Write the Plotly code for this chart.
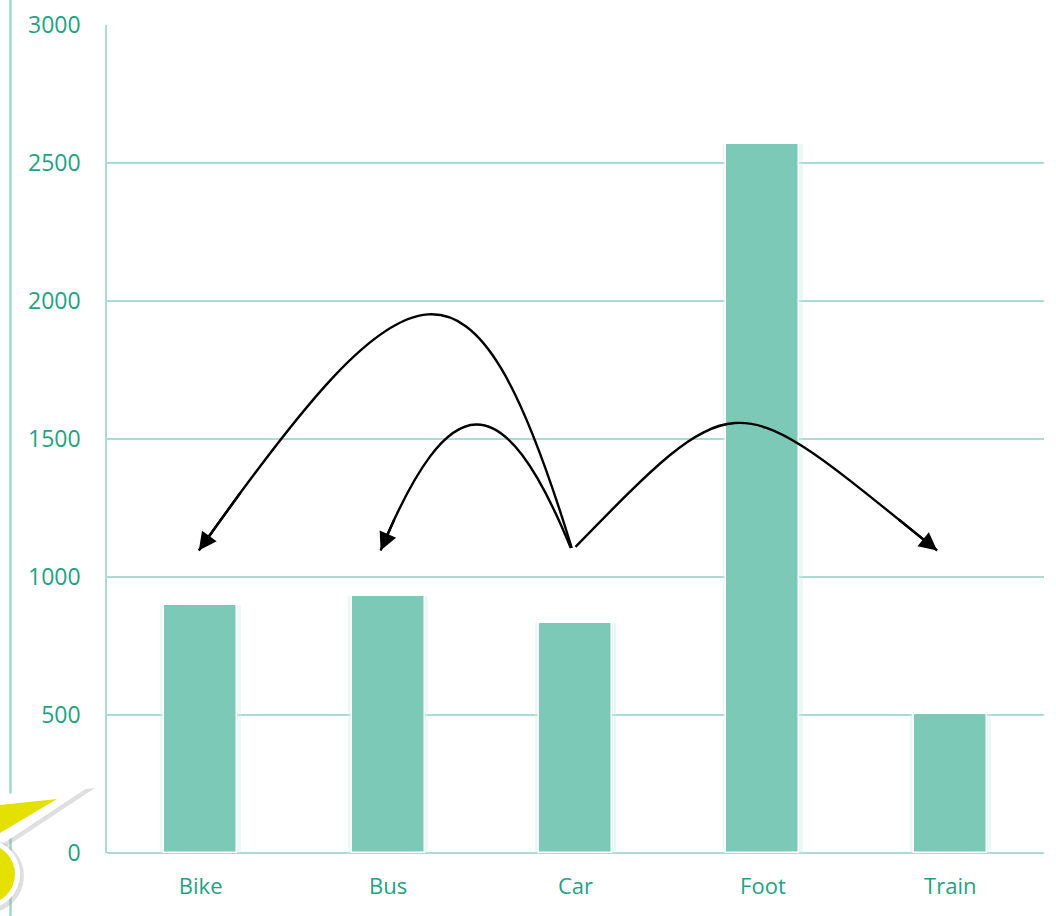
import plotly.graph_objects as go

# ---- data -------------------------------------------------------------
categories = ["Bike", "Bus", "Car", "Foot", "Train"]
counts = [900, 930, 835, 2570, 505]
y_ticks = [0, 500, 1000, 1500, 2000, 2500, 3000]

# ---- styling ----------------------------------------------------------
BAR_COLOR = "#7dc9b8"
GRID_COLOR = "#a9ddd1"
TEXT_COLOR = "#1fa283"
FONT = "Open Sans"
FONT_SIZE = 23
BAR_W = 0.39
HALO_W = 0.43

W, H = 1056, 916
M_L, M_R, M_T, M_B = 107, 12, 25, 63
PLOT_W = W - M_L - M_R
PLOT_H = H - M_T - M_B


def px_x(x):
    """pixel column -> paper x"""
    return (x - M_L) / PLOT_W


def px_y(y):
    """pixel row -> paper y"""
    return (H - M_B - y) / PLOT_H


xs = list(range(len(categories)))

fig = go.Figure()

# soft halo behind each bar
fig.add_trace(go.Bar(
    x=xs, y=counts, width=HALO_W, offset=-HALO_W / 2,
    marker=dict(color="rgba(205,238,230,0.4)", line=dict(width=0)),
    hoverinfo="skip", showlegend=False,
))
# main bars
fig.add_trace(go.Bar(
    x=xs, y=counts, width=BAR_W, offset=-BAR_W / 2,
    marker=dict(color=BAR_COLOR, line=dict(color="white", width=1.5)),
    showlegend=False,
))

# ---- curved arrows leaving "Car" (cubic Bezier, data units) ----------
arrows = [
    # start, control 1, control 2, tip
    ((1.98, 1105), (1.45, 2280), (1.13, 2190), (-0.01, 1096)),
    ((1.975, 1105), (1.61, 1708), (1.33, 1698), (0.96, 1096)),
    ((2.0, 1109), (2.89, 1730), (2.84, 1690), (3.93, 1096)),
]


def bezier(p, t):
    a, b, c, d = p
    u = 1 - t
    return (u**3 * a[0] + 3 * u * u * t * b[0] + 3 * u * t * t * c[0] + t**3 * d[0],
            u**3 * a[1] + 3 * u * u * t * b[1] + 3 * u * t * t * c[1] + t**3 * d[1])


shapes = []
annotations = []
for p in arrows:
    a, b, c, d = p
    tx, ty = bezier(p, 0.93)
    shapes.append(dict(
        type="path", xref="x", yref="y", layer="above",
        path=f"M {a[0]},{a[1]} C {b[0]},{b[1]} {c[0]},{c[1]} {d[0]},{d[1]}",
        line=dict(color="black", width=2.4),
    ))
    annotations.append(dict(
        x=d[0], y=d[1], ax=tx, ay=ty, xref="x", yref="y", axref="x", ayref="y",
        text="", showarrow=True, arrowhead=2, arrowsize=1.5, arrowwidth=2.4,
        arrowcolor="black", standoff=0,
    ))

# thin teal rule along the left edge of the page
shapes.append(dict(
    type="line", xref="paper", yref="paper", layer="above",
    x0=px_x(10.5), x1=px_x(10.5), y0=px_y(916), y1=px_y(0),
    line=dict(color="#9fd8ca", width=2.5),
))


# yellow badge in the lower-left corner (shadow, white rim, yellow fill)
def poly(pts, dx=0, dy=0):
    s = "M " + " L ".join(f"{px_x(x + dx)},{px_y(y + dy)}" for x, y in pts)
    return s + " Z"


spike_rim = [(-10, 796), (93, 784), (-10, 852)]
spike_fill = [(-10, 806), (57, 799), (-10, 839)]
shapes.append(dict(type="path", xref="paper", yref="paper", layer="above",
                   path=poly(spike_rim, 2, 4), fillcolor="rgba(150,150,150,0.3)",
                   line=dict(width=0)))
shapes.append(dict(type="path", xref="paper", yref="paper", layer="above",
                   path=poly(spike_rim), fillcolor="white", line=dict(width=0)))
shapes.append(dict(type="path", xref="paper", yref="paper", layer="above",
                   path=poly(spike_fill), fillcolor="#e4e000", line=dict(width=0)))

cx, cy = -15, 874
for r, col, off in [(37, "rgba(150,150,150,0.3)", 2), (35, "white", 0), (30, "#e4e000", 0)]:
    shapes.append(dict(
        type="circle", xref="paper", yref="paper", layer="above",
        x0=px_x(cx - r + off), x1=px_x(cx + r + off),
        y0=px_y(cy + r + off), y1=px_y(cy - r + off),
        fillcolor=col, line=dict(width=0),
    ))

fig.update_layout(
    width=W, height=H,
    margin=dict(l=M_L, r=M_R, t=M_T, b=M_B, autoexpand=False),
    paper_bgcolor="white", plot_bgcolor="white",
    barmode="overlay", bargap=0,
    font=dict(family=FONT, size=FONT_SIZE, color=TEXT_COLOR),
    shapes=shapes, annotations=annotations,
    xaxis=dict(
        range=[-0.5, len(categories) - 0.5],
        tickmode="array", tickvals=xs, ticktext=categories,
        showgrid=False, zeroline=False, showline=False, ticks="",
        ticklabelstandoff=18,
        tickfont=dict(family=FONT, size=FONT_SIZE - 1, color=TEXT_COLOR),
    ),
    yaxis=dict(
        range=[0, 3000], tickmode="array", tickvals=y_ticks,
        showgrid=True, gridcolor=GRID_COLOR, gridwidth=1.5,
        zeroline=True, zerolinecolor=GRID_COLOR, zerolinewidth=1.5,
        showline=True, linecolor=GRID_COLOR, linewidth=1.5,
        ticks="", ticklabelstandoff=20,
        tickfont=dict(family=FONT, size=FONT_SIZE, color=TEXT_COLOR),
    ),
)

fig.write_html("out.html")
